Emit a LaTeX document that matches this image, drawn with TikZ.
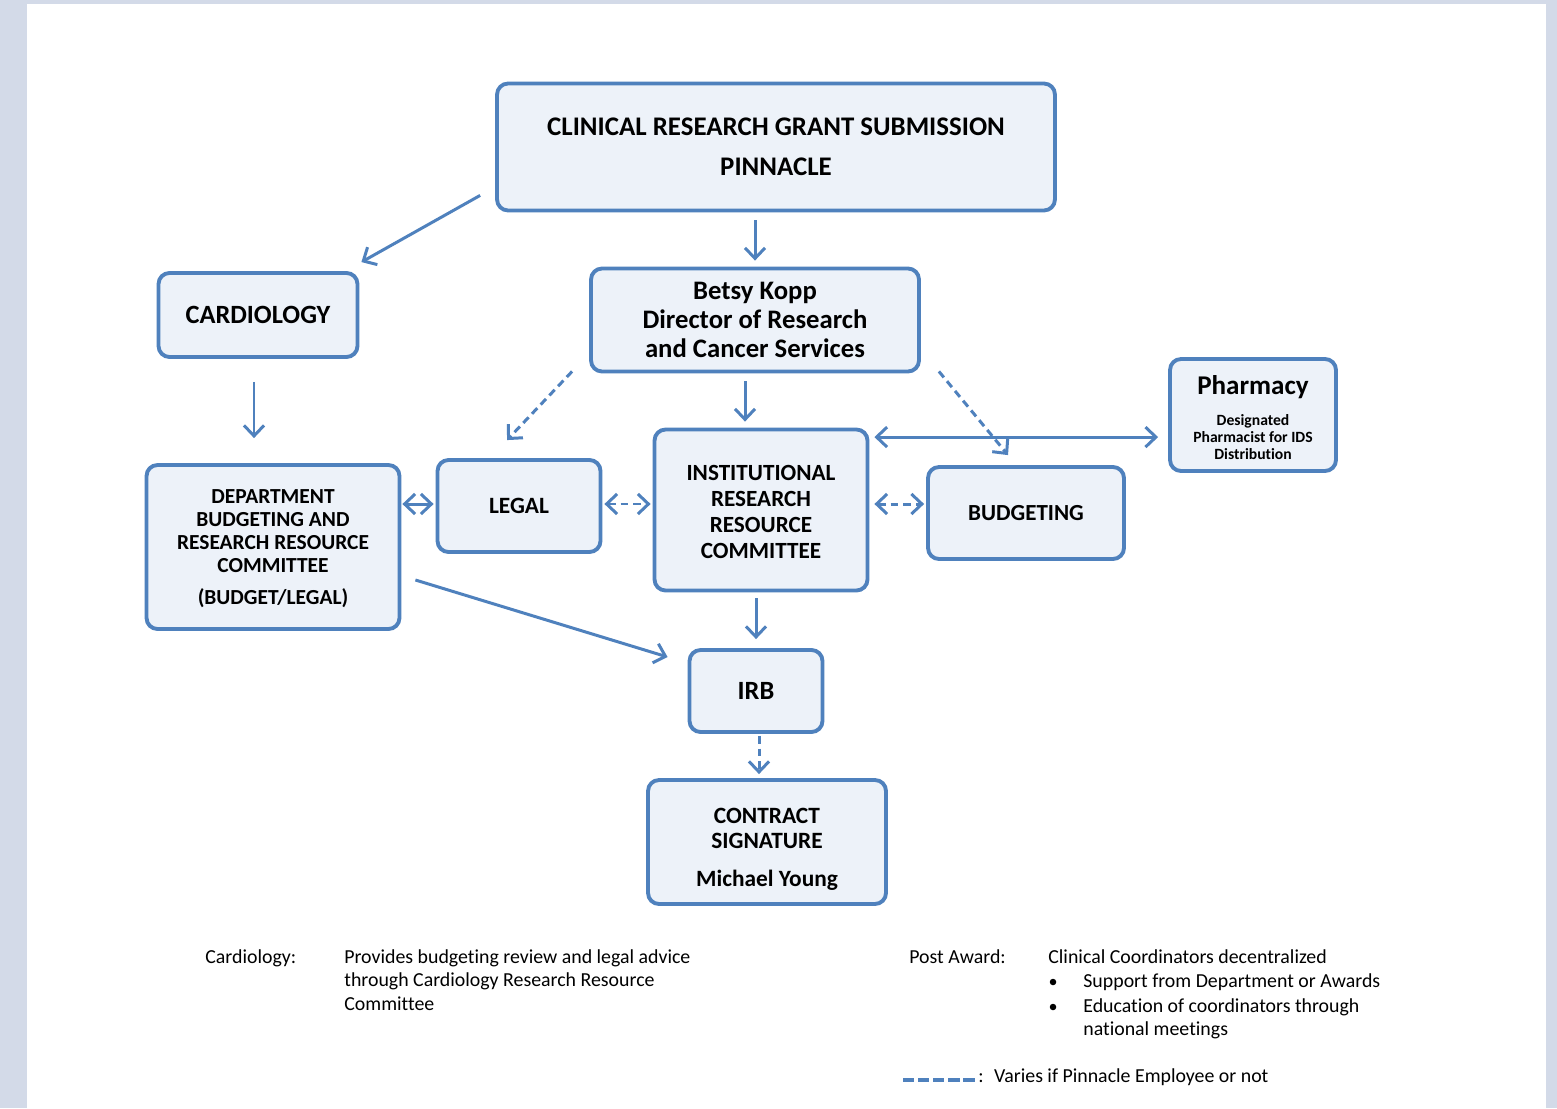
\documentclass[tikz,border=0pt]{standalone}
\usepackage{fontspec}
\setmainfont{Carlito}[Ligatures=NoCommon]
\usetikzlibrary{arrows.meta,positioning,calc}
\definecolor{AzulBorde}{RGB}{79,129,189}
\definecolor{AzulPalido}{RGB}{237,242,249}
\definecolor{MarcoGris}{RGB}{211,218,232}

\begin{document}
\begin{tikzpicture}[x=0.02cm, y=-0.02cm, font=\bfseries,
    caja/.style={draw=AzulBorde, line width=2.2pt, rounded corners=0.22cm, fill=AzulPalido, align=center, inner sep=2pt},
    flecha/.style={-{Straight Barb[length=0.21cm,width=0.4cm]}, line width=1.7pt, AzulBorde},
    doble/.style={{Straight Barb[length=0.21cm,width=0.4cm]}-{Straight Barb[length=0.21cm,width=0.4cm]}, line width=1.7pt, AzulBorde},
    rayas/.style={dash pattern=on 4.4pt off 2.8pt},
    nota/.style={font=\mdseries\fontsize{11.3}{13.4}\selectfont, anchor=north west, inner sep=0pt, align=left}]
        \fill[MarcoGris] (0,0) rectangle (1557,1108);
        \fill[white] (27,4) rectangle (1546,1108);

        \node[caja, minimum width=11.16cm, minimum height=2.54cm, font=\bfseries\fontsize{15.3}{16}\selectfont] (grant) at (776,147)
          {CLINICAL RESEARCH GRANT SUBMISSION\\[6.5pt]PINNACLE};
        \node[caja, minimum width=3.98cm, minimum height=1.68cm, font=\bfseries\fontsize{15}{17}\selectfont] (cardio) at (258,315)
          {CARDIOLOGY};
        \node[caja, minimum width=6.56cm, minimum height=2.06cm, font=\bfseries\fontsize{15.2}{16.5}\selectfont] (betsy) at (755,320)
          {Betsy Kopp\\Director of Research\\and Cancer Services};
        \node[caja, minimum width=3.32cm, minimum height=2.24cm, font=\bfseries\fontsize{8.9}{9.7}\selectfont] (pharm) at (1253,415)
          {\rule{0pt}{14pt}{\fontsize{15.4}{17}\selectfont Pharmacy}\\[8pt]Designated\\Pharmacist for IDS\\Distribution};
        \node[caja, minimum width=5.06cm, minimum height=3.28cm, font=\bfseries\fontsize{12.2}{13.1}\selectfont] (dept) at (273,547)
          {\rule{0pt}{10pt}DEPARTMENT\\BUDGETING AND\\RESEARCH RESOURCE\\COMMITTEE\\[5pt](BUDGET/LEGAL)};
        \node[caja, minimum width=3.26cm, minimum height=1.84cm, font=\bfseries\fontsize{13.3}{14.5}\selectfont] (legal) at (519,506)
          {LEGAL};
        \node[caja, minimum width=4.26cm, minimum height=3.22cm, font=\bfseries\fontsize{13.2}{14.8}\selectfont] (irrc) at (761,510)
          {\rule{0pt}{10.5pt}INSTITUTIONAL\\RESEARCH\\RESOURCE\\COMMITTEE};
        \node[caja, minimum width=3.92cm, minimum height=1.84cm, font=\bfseries\fontsize{13.1}{14.5}\selectfont] (budget) at (1026,513)
          {BUDGETING};
        \node[caja, minimum width=2.66cm, minimum height=1.64cm, font=\bfseries\fontsize{15}{16}\selectfont] (irb) at (756,691)
          {IRB};
        \node[caja, minimum width=4.76cm, minimum height=2.48cm, font=\bfseries\fontsize{13.3}{14.2}\selectfont] (contract) at (767,842)
          {\rule{0pt}{17pt}CONTRACT\\SIGNATURE\\[7pt]Michael Young};

        % flechas
        \draw[flecha] ([shift={(-0.3cm,0.34cm)}]grant.south west) -- ([shift={(0.04cm,0.18cm)}]cardio.north east);
        \draw[flecha, shorten <=0.16cm, shorten >=0.12cm] ([xshift=-0.42cm]grant.south) -- ([xshift=-0.42cm]grant.south |- betsy.north);
        \draw[flecha, rayas] ([shift={(-0.34cm,0.04cm)}]betsy.south west) -- ([shift={(-0.24cm,0.36cm)}]legal.north);
        \draw[flecha, shorten <=0.16cm, shorten >=0.12cm] ([xshift=-0.2cm]betsy.south) -- ([xshift=-0.2cm]betsy.south |- irrc.north);
        \draw[flecha, rayas] ([shift={(0.36cm,0.04cm)}]betsy.south east) -- ([shift={(-0.36cm,0.2cm)}]budget.north);
        \draw[flecha, shorten <=0.46cm, shorten >=0.5cm] ([xshift=-0.08cm]cardio.south) -- ([xshift=-0.08cm]cardio.south |- dept.north);
        \draw[doble, shorten <=0.02cm, shorten >=0.04cm] ([yshift=0.86cm]dept.east) -- ([yshift=0.86cm]dept.east -| legal.west);
        \draw[doble, rayas, shorten <=0.04cm, shorten >=0.04cm] ([yshift=0.04cm]legal.east) -- ([yshift=0.04cm]legal.east -| irrc.west);
        \draw[doble, rayas, shorten <=0.1cm, shorten >=0.04cm] ([yshift=0.18cm]budget.west -| irrc.east) -- ([yshift=0.18cm]budget.west);
        \draw[doble, shorten <=0.1cm, shorten >=0.2cm] ([yshift=-0.19cm]irrc.north east) -- ([yshift=-0.19cm]irrc.north east -| pharm.west);
        \draw[flecha, shorten <=0.12cm, shorten >=0.18cm] (irrc.south -| irb.north) -- (irb.north);
        \draw[flecha] ([shift={(0.28cm,-0.66cm)}]dept.east) -- ([shift={(-0.4cm,0.68cm)}]irb.west);
        \draw[flecha, rayas, shorten <=0.04cm, shorten >=0.08cm] ([xshift=0.06cm]irb.south) -- ([xshift=0.06cm]irb.south |- contract.north);

        % notas
        \node[nota] (cardnota) at (205,949) {Cardiology:};
        \node[nota] (cardtexto) at (344,949) {Provides budgeting review and legal advice\\through Cardiology Research Resource\\Committee};
        \node[nota] (postnota) at (909,949) {Post Award:};
        \node[nota] (posttexto) at (1048,949) {Clinical Coordinators decentralized};
        \node[circle, fill=black, inner sep=0pt, minimum size=0.13cm] (punto1) at (1053,982) {};
        \node[nota] (apoyo) at (1083,973) {Support from Department or Awards};
        \node[circle, fill=black, inner sep=0pt, minimum size=0.13cm] (punto2) at (1053,1007) {};
        \node[nota] (educa) at (1083,998) {Education of coordinators through\\national meetings};
        \coordinate (claveraya) at (903,1080);
        \node[nota, anchor=west] (varia) at (978,1077) {:\hspace{6pt}Varies if Pinnacle Employee or not};
        \draw[AzulBorde, line width=2.6pt, dash pattern=on 6.4pt off 2.2pt] (claveraya) -- ([xshift=-0.04cm]claveraya -| varia.west);
      \end{tikzpicture}
\end{document}
